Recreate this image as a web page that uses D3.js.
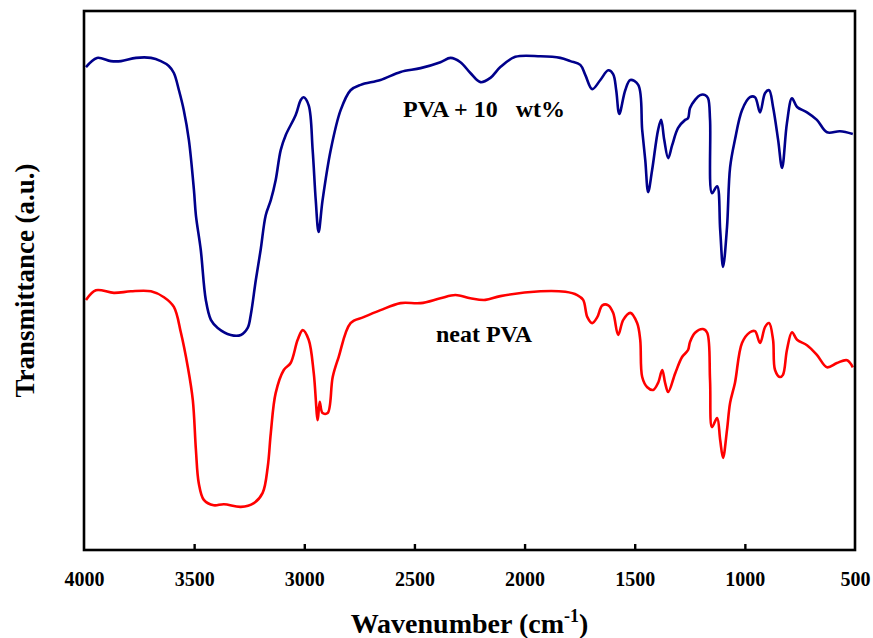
<!DOCTYPE html>
<html>
<head>
<meta charset="utf-8">
<script src="https://cdn.jsdelivr.net/npm/d3@7"></script>
<style>
  body { margin: 0; background: #fff; }
</style>
</head>
<body>
<script>
// wavenumber (cm-1) of each sample point, and transmittance (a.u.)
const wnPVA10 = [3991,3941,3878,3832,3764,3696,3651,3615,3592,3569,3547,3524,3501,3492,3470,3447,3424,3393,3334,3288,3257,3243,3220,3198,3175,3152,3130,3107,3084,3039,3016,3003,2980,2962,2948,2935,2917,2880,2835,2790,2744,2654,2563,2472,2382,2336,2291,2246,2200,2155,2110,2042,1928,1838,1792,1747,1724,1693,1656,1620,1598,1584,1570,1543,1520,1484,1466,1452,1439,1421,1394,1380,1366,1348,1330,1303,1271,1258,1249,1226,1203,1180,1167,1158,1149,1126,1112,1099,1081,1067,1045,1013,977,954,931,908,890,872,849,831,809,786,763,718,673,627,568,510];
const tPVA10 = [89.6,91.3,90.7,90.7,91.3,91.3,90.7,89.8,88.5,85.3,81.6,76.1,66.8,62.1,55.7,46.4,42.7,41.2,39.9,39.9,41.2,43.6,50.1,55.7,62.1,64.9,68.6,74.2,77.0,80.7,83.5,84.0,82.5,74.2,64.9,59.0,64.9,74.2,81.6,85.3,86.3,87.2,88.7,89.4,90.5,91.3,90.5,88.5,86.8,87.6,89.6,91.5,91.6,91.3,90.7,90.0,88.1,85.5,87.2,89.0,88.3,85.3,80.9,85.3,87.2,86.3,77.9,72.3,66.4,70.5,77.9,79.8,76.1,72.7,75.1,78.3,79.8,80.1,82.0,83.5,84.4,84.4,83.8,79.8,66.2,67.5,59.4,52.5,59.9,71.0,76.1,81.6,84.0,84.0,81.2,84.8,85.3,82.2,76.1,70.9,79.2,83.8,82.2,81.2,79.8,77.5,77.7,77.2];

const wnNeat = [3991,3946,3864,3787,3696,3637,3592,3560,3529,3506,3492,3479,3456,3411,3365,3288,3229,3189,3166,3152,3130,3093,3062,3030,3007,2980,2957,2939,2930,2917,2894,2871,2844,2790,2731,2654,2563,2472,2382,2314,2246,2178,2110,1928,1815,1761,1734,1715,1693,1670,1647,1620,1598,1575,1552,1520,1489,1475,1466,1443,1416,1394,1375,1362,1348,1316,1285,1258,1249,1226,1190,1171,1158,1149,1126,1112,1099,1081,1067,1045,1013,977,954,931,908,890,872,863,841,827,809,786,763,718,673,627,582,536,510];
const tNeat = [46.4,48.2,47.7,48.0,48.0,46.9,45.1,40.3,34.0,27.8,18.6,12.4,9.3,8.3,8.5,8.0,8.7,10.6,15.4,21.7,29.1,33.4,34.7,39.0,40.8,39.0,32.8,24.1,27.5,25.4,25.4,32.1,35.8,42.1,43.2,44.5,45.8,45.8,46.7,47.3,46.7,46.4,47.1,48.0,47.9,47.3,46.4,43.2,42.1,43.2,45.4,45.4,44.0,39.9,42.7,44.0,42.1,39.0,32.1,30.2,29.7,31.0,33.4,31.0,29.3,32.8,35.8,37.1,38.6,40.3,41.0,40.3,31.5,22.8,24.5,20.4,17.1,22.3,27.3,31.0,38.4,40.4,40.6,38.4,41.4,42.1,39.0,33.4,32.1,32.5,37.1,40.4,39.0,38.0,36.2,33.9,34.7,35.2,33.9];

const xTicks = [4000, 3500, 3000, 2500, 2000, 1500, 1000, 500];
const seriesNames = ["PVA + 10   wt%", "neat PVA"];
const seriesColors = ["#00008b", "#ff0000"];

const width = 873, height = 638;
const margin = { left: 84, right: 18, top: 11, bottom: 88 };
const serif = "'Liberation Serif', 'Times New Roman', serif";

const svg = d3.select("body").append("svg")
  .attr("width", width)
  .attr("height", height)
  .attr("font-family", serif)
  .attr("font-weight", "bold");

const x = d3.scaleLinear()
  .domain([4000, 500])
  .range([margin.left, width - margin.right]);

const y = d3.scaleLinear()
  .domain([0, 100])
  .range([height - margin.bottom, margin.top]);

const line = d3.line()
  .x(d => x(d[0]))
  .y(d => y(d[1]))
  .curve(d3.curveCatmullRom.alpha(0.5));

const series = [
  d3.zip(wnPVA10, tPVA10),
  d3.zip(wnNeat, tNeat)
];

series.forEach((data, i) => {
  svg.append("path")
    .datum(data)
    .attr("d", line)
    .attr("fill", "none")
    .attr("stroke", seriesColors[i])
    .attr("stroke-width", 2.6)
    .attr("stroke-linejoin", "round");
});

// Frame
svg.append("rect")
  .attr("x", margin.left)
  .attr("y", margin.top)
  .attr("width", width - margin.left - margin.right)
  .attr("height", height - margin.top - margin.bottom)
  .attr("fill", "none")
  .attr("stroke", "#000")
  .attr("stroke-width", 2.6);

// Bottom axis: inward ticks, labels below
const xAxis = svg.append("g")
  .attr("transform", `translate(0,${height - margin.bottom})`)
  .call(d3.axisBottom(x).tickValues(xTicks).tickFormat(d3.format("d")).tickSize(-6).tickPadding(22));
xAxis.attr("font-family", serif).attr("font-size", 20);
xAxis.select(".domain").remove();
xAxis.selectAll(".tick line")
  .attr("stroke-width", 2.4)
  .filter(d => d === 4000 || d === 500).remove();
xAxis.selectAll(".tick text")
  .attr("fill", "#000")
  .style("font-family", serif)
  .style("font-weight", "bold");

// Series labels
svg.append("text")
  .attr("x", x(2184))
  .attr("y", y(80.3))
  .attr("text-anchor", "middle")
  .attr("font-size", 24)
  .attr("fill", "#000")
  .style("white-space", "pre")
  .text(seriesNames[0]);

svg.append("text")
  .attr("x", x(2184))
  .attr("y", y(38.6))
  .attr("text-anchor", "middle")
  .attr("font-size", 24)
  .attr("fill", "#000")
  .text(seriesNames[1]);

// Axis titles
const xTitle = svg.append("text")
  .attr("x", (margin.left + width - margin.right) / 2)
  .attr("y", 633)
  .attr("text-anchor", "middle")
  .attr("font-size", 28)
  .attr("fill", "#000");
xTitle.append("tspan").text("Wavenumber (cm");
xTitle.append("tspan").attr("dy", -11).attr("font-size", 18).text("-1");
xTitle.append("tspan").attr("dy", 11).text(")");

svg.append("text")
  .attr("transform", `translate(34,${(margin.top + height - margin.bottom) / 2}) rotate(-90)`)
  .attr("text-anchor", "middle")
  .attr("font-size", 27)
  .attr("fill", "#000")
  .text("Transmittance (a.u.)");
</script>
</body>
</html>
